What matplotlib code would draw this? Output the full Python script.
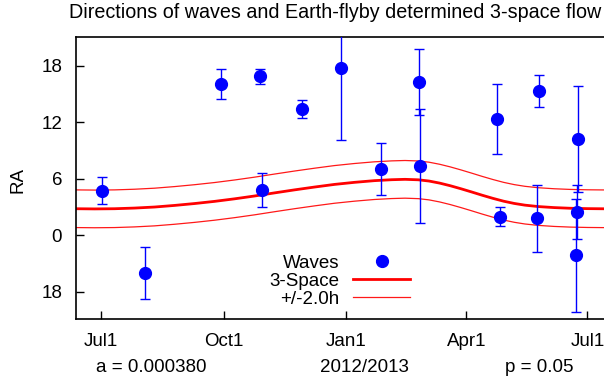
import matplotlib
matplotlib.use("Agg")
import matplotlib.pyplot as plt
from matplotlib.lines import Line2D
import numpy as np

plt.rcParams['font.family'] = ['Liberation Sans', 'DejaVu Sans']
FS = 13.5

# Observation epochs: days since 2012-07-01
obs_day = [0.8, 32.8, 89.9, 119.4, 120.9, 150.9, 180.2, 210.2, 238.3, 239.0,
           297.3, 299.3, 327.3, 328.4, 358.1, 357.4, 356.2]
obs_ra = [4.71, -4.04, 16.02, 16.87, 4.82, 13.4, 17.77, 7.02, 16.24, 7.37,
          12.34, 1.95, 1.77, 15.32, 10.17, 2.41, -2.13]
obs_err = [1.45, 2.75, 1.6, 0.8, 1.82, 0.92, 7.67, 2.75, 3.52, 6.07,
           3.72, 1.03, 3.53, 1.7, 5.61, 2.86, 6.01]

# 3-space flow model curve
model_day = [-20, -5, 10, 25, 40, 55, 70, 85, 100, 115, 130, 145, 160, 175,
             190, 205, 218, 228, 238, 246, 254, 262, 270, 278, 286, 294,
             302, 310, 318, 328, 340, 352, 365, 380, 395]
model_ra = [2.80, 2.78, 2.80, 2.87, 2.98, 3.15, 3.35, 3.58, 3.85, 4.15, 4.48,
            4.8, 5.1, 5.38, 5.6, 5.78, 5.88, 5.92, 5.87, 5.74, 5.52, 5.24,
            4.92, 4.58, 4.23, 3.9, 3.6, 3.36, 3.18, 3.03, 2.92, 2.85, 2.81,
            2.79, 2.79]
band = 2.0

xtick_days = [0, 92, 184, 274, 365]
xtick_labels = ["Jul1", "Oct1", "Jan1", "Apr1", "Jul1"]
ytick_vals = [-6, 0, 6, 12, 18]
ytick_labels = ["18", "0", "6", "12", "18"]

W, H = 604, 387
fig = plt.figure(figsize=(W / 100, H / 100), dpi=100)
ax = fig.add_axes([76 / W, 1 - 319.3 / H, (620 - 76) / W, (319.3 - 37.3) / H])

md = np.array(model_day)
mr = np.array(model_ra)
ax.plot(md, mr, color='#ff0000', lw=2.0, zorder=2)
ax.plot(md, mr + band, color='#ff0000', lw=0.9, alpha=0.9, zorder=2)
ax.plot(md, mr - band, color='#ff0000', lw=0.9, alpha=0.9, zorder=2)

ax.errorbar(obs_day, obs_ra, yerr=obs_err, fmt='o', color='#0000ff',
            ms=8.5, mec='#0000ff', elinewidth=1.0, capsize=3.5, capthick=1.0,
            zorder=3)

ax.set_xlim(-19.0, 389.4)
ax.set_ylim(-8.94, 21.0)
ax.set_xticks(xtick_days)
ax.set_xticklabels(xtick_labels)
ax.set_yticks(ytick_vals)
ax.set_yticklabels(ytick_labels)
ax.tick_params(direction='in', length=6, width=1.0, labelsize=FS, pad=10,
               top=False, right=False)
for s in ['left', 'bottom', 'top']:
    ax.spines[s].set_linewidth(1.2)
ax.spines['right'].set_visible(False)

fig.text(18 / W, 1 - 180 / H, "RA", rotation=90, fontsize=FS,
         ha='center', va='center')
fig.text(335 / W, 1 - 13 / H,
         "Directions of waves and Earth-flyby determined 3-space flow",
         fontsize=14.2, ha='center', va='center')
fig.text(151 / W, 1 - 368 / H, "a = 0.000380", fontsize=FS, ha='center', va='center')
fig.text(364 / W, 1 - 368 / H, "2012/2013", fontsize=FS, ha='center', va='center')
fig.text(539 / W, 1 - 368 / H, "p = 0.05", fontsize=FS, ha='center', va='center')

handles = [Line2D([], [], marker='o', ls='none', color='#0000ff', ms=8.5),
           Line2D([], [], color='#ff0000', lw=2.0),
           Line2D([], [], color='#ff0000', lw=0.9, alpha=0.9)]
labels = ["Waves", "3-Space", "+/-2.0h"]
ax.legend(handles, labels, loc='center', bbox_to_anchor=(339.5 / W, 1 - 281 / H),
          bbox_transform=fig.transFigure, frameon=False, markerfirst=False,
          fontsize=FS, handlelength=3.0, handletextpad=0.75, labelspacing=0.05,
          borderpad=0.0, numpoints=1)

fig.savefig("out.png", dpi=100)
